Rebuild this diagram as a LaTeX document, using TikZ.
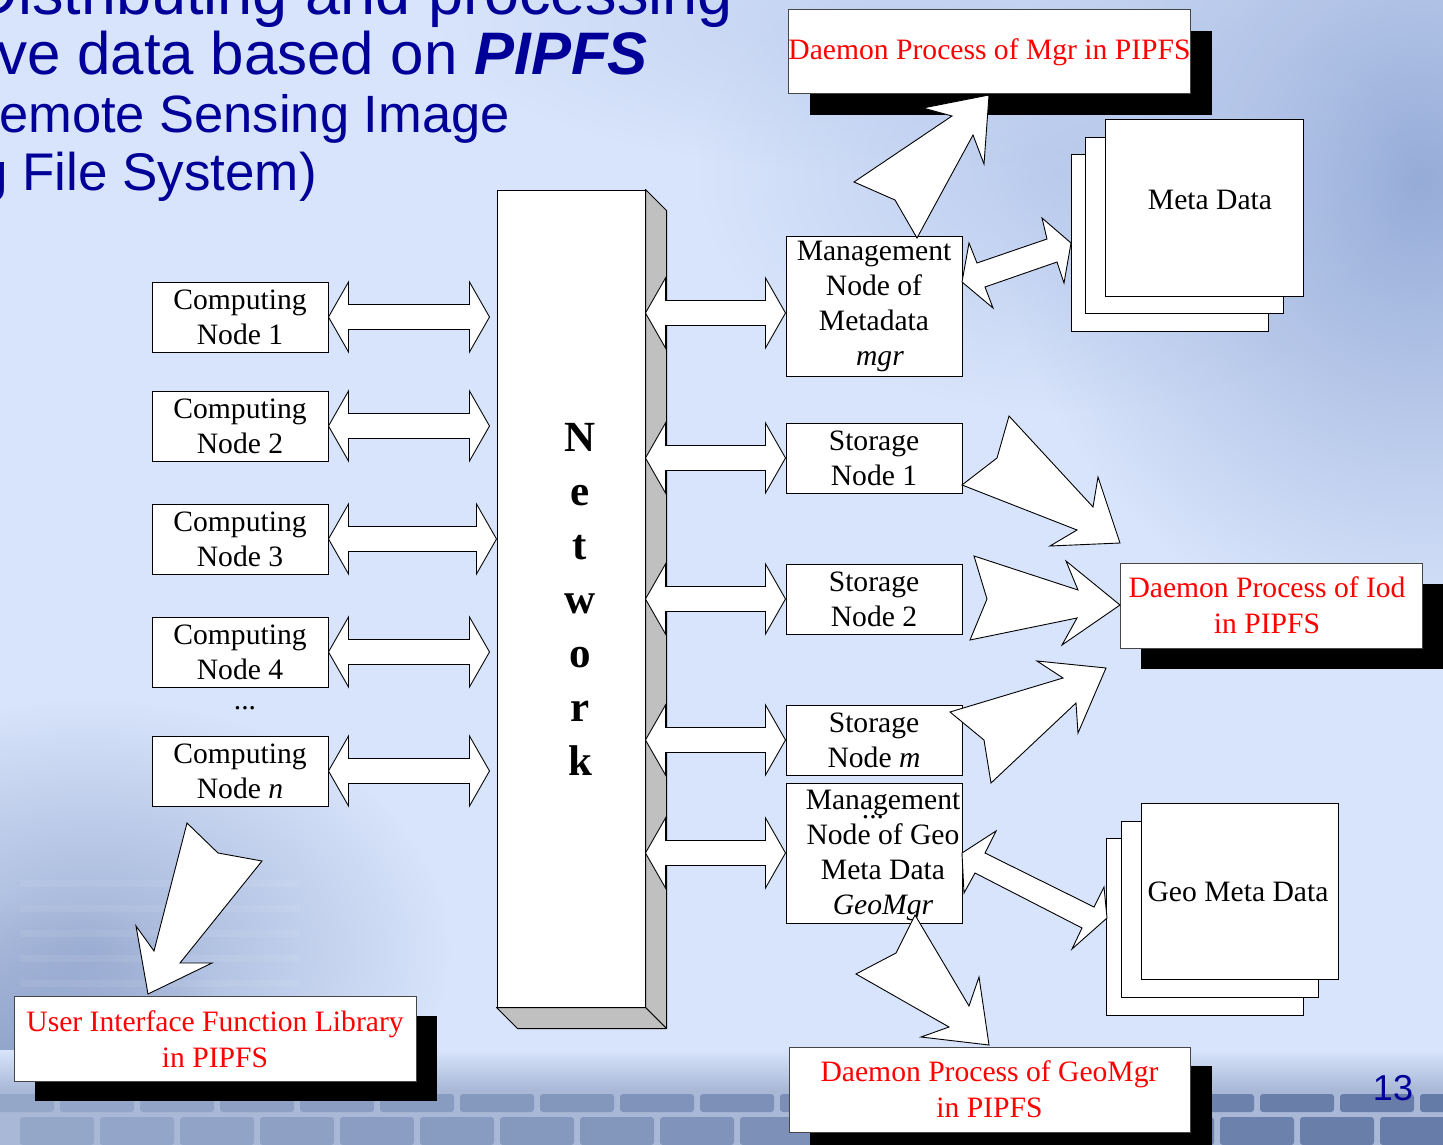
\documentclass[tikz,border=0pt]{standalone}
\usepackage{fontspec}
\setmainfont{Liberation Serif}
\newfontfamily\titlefont{Liberation Sans}
\usetikzlibrary{calc,fadings}

\definecolor{bgcol}{RGB}{216,228,251}
\definecolor{cloud}{RGB}{150,172,216}
\definecolor{cloudlight}{RGB}{180,198,234}
\definecolor{stairshade}{RGB}{160,178,214}
\definecolor{cornershade}{RGB}{140,160,200}
\definecolor{titleblue}{RGB}{0,0,153}
\definecolor{netgray}{RGB}{192,192,192}
\definecolor{bandcol}{RGB}{168,184,214}
\definecolor{brickcol}{RGB}{96,118,164}
\definecolor{redframe}{RGB}{70,70,70}

% soft round spot: opaque centre, transparent rim
\tikzfading[name=softspot, inner color=transparent!0, outer color=transparent!100]

\newcommand\diagfont{\fontsize{29.6}{35}\selectfont}
\newcommand\redfont{\fontsize{29.6}{36}\selectfont}

% horizontal double-headed block arrow between two points on one level
\newcommand\hdouble[2]{%
  \draw[blockarrow] (#1) -- ($(#1)+(20,-35)$) -- ($(#1)+(20,-12.5)$)
    -- ($(#2)+(-20,-12.5)$) -- ($(#2)+(-20,-35)$) -- (#2)
    -- ($(#2)+(-20,35)$) -- ($(#2)+(-20,12.5)$)
    -- ($(#1)+(20,12.5)$) -- ($(#1)+(20,35)$) -- cycle;}

\begin{document}
\begin{tikzpicture}[x=1pt,y=-1pt,
  box/.style={draw=black, line width=1pt, fill=white, inner sep=0pt,
              align=center, font=\diagfont},
  paper/.style={draw=black, line width=1pt, fill=white},
  redbox/.style={draw=redframe, line width=1pt,
                 fill=white, text=red, inner sep=0pt, align=center, font=\redfont},
  shadowbox/.style={fill=black},
  blockarrow/.style={draw=black, line width=0.9pt, fill=white, line join=miter},
  titletext/.style={text=titleblue, inner sep=0pt, anchor=base east},
  plain/.style={inner sep=0pt, align=center, font=\diagfont}]

\useasboundingbox (0,0) rectangle (1443,1145);
\clip (0,0) rectangle (1443,1145);

% ---------- slide background ----------
\fill[bgcol] (0,0) rectangle (1443,1145);
\fill[cloud, path fading=softspot] (1420,180) ellipse (420 and 460);
\fill[cloudlight, path fading=softspot, opacity=0.8] (1060,170) ellipse (360 and 240);
\fill[cloudlight, path fading=softspot, opacity=0.6] (880,20) ellipse (440 and 150);
\fill[stairshade, path fading=softspot] (90,950) ellipse (360 and 250);
\fill[cornershade, path fading=softspot] (20,1070) ellipse (220 and 170);
% faint stair steps at the lower left
\foreach \yy in {880,905,930,955,980}
  \fill[white, opacity=0.07] (20,\yy) rectangle (300,\yy+7);

% brick band along the bottom edge
\shade[top color=bgcol, bottom color=bandcol] (0,1050) rectangle (1443,1090);
\fill[bandcol] (0,1090) rectangle (1443,1145);
\foreach \xx in {-20,60,...,1460} {
  \pgfmathsetmacro\op{0.25+0.7*max(0,\xx)/1443}
  \fill[brickcol, opacity=\op, rounded corners=3pt] (\xx,1094) rectangle (\xx+74,1112);
  \fill[brickcol, opacity=\op, rounded corners=3pt] (\xx+40,1117) rectangle (\xx+114,1145);
}

% ---------- title lines ----------
\node[titletext, font=\titlefont\fontsize{63}{63}\selectfont] (t1) at (733,15) {Distributing and processing};
\node[titletext, font=\titlefont\fontsize{60}{60}\selectfont] (t2) at (648,75) {ve data based on \textbf{\textit{PIPFS}}};
\node[titletext, font=\titlefont\fontsize{52.5}{52.5}\selectfont] (t3) at (510,133) {emote Sensing Image};
\node[titletext, font=\titlefont\fontsize{53}{53}\selectfont] (t4) at (317,190) {g File System)};

% ---------- network column (box with side and bottom faces) ----------
\node[draw=black, line width=1pt, fill=white, minimum width=148pt, minimum height=817pt,
      inner sep=0pt] (net) at (571,598.5) {};
\fill[netgray, draw=black, line width=1pt, line join=round]
  (net.north east) -- ++(21,21) -- ($(net.south east)+(21,21)$) -- (net.south east) -- cycle;
\fill[netgray, draw=black, line width=1pt, line join=round]
  (net.south west) -- (net.south east) -- ++(21,21) -- ($(net.south west)+(21,21)$) -- cycle;
\node[inner sep=0pt, align=center, font=\fontsize{43}{54}\selectfont\bfseries] (netlabel) at (580,599)
  {N\\e\\t\\w\\o\\r\\k};

% ---------- computing nodes ----------
\node[box, minimum width=176pt, minimum height=70pt] (cn1) at (240,317) {Computing\\Node 1};
\node[box, minimum width=176pt, minimum height=70pt] (cn2) at (240,426) {Computing\\Node 2};
\node[box, minimum width=176pt, minimum height=70pt] (cn3) at (240,539) {Computing\\Node 3};
\node[box, minimum width=176pt, minimum height=70pt] (cn4) at (240,652) {Computing\\Node 4};
\node[plain] (cdots) at (245,708) {...};
\node[box, minimum width=176pt, minimum height=70pt] (cnn) at (240,771) {Computing\\Node \textit{n}};

\coordinate (c1) at ($(net.west |- cn1.east)+(-7,0)$);
\coordinate (c2) at ($(net.west |- cn2.east)+(-7,0)$);
\coordinate (c3) at (net.west |- cn3.east);
\coordinate (c4) at ($(net.west |- cn4.east)+(-7,0)$);
\coordinate (cn) at ($(net.west |- cnn.east)+(-7,0)$);
\hdouble{cn1.east}{c1}
\hdouble{cn2.east}{c2}
\hdouble{cn3.east}{c3}
\hdouble{cn4.east}{c4}
\hdouble{cnn.east}{cn}

% ---------- management and storage nodes ----------
\node[box, minimum width=176pt, minimum height=140pt] (mgr) at (874,306)
  {Management\\Node of\\Metadata\\\hspace*{12pt}\textit{mgr}};
\node[box, minimum width=176pt, minimum height=70pt] (sn1) at (874,458) {Storage\\Node 1};
\node[box, minimum width=176pt, minimum height=70pt] (sn2) at (874,599) {Storage\\Node 2};
\node[box, minimum width=176pt, minimum height=70pt] (snm) at (874,740) {Storage\\Node \textit{m}};
\node[box, minimum width=176pt, minimum height=140pt] (geo) at (874,853) {};
\node[plain] (geotext) at (883,855) {Management\\Node of Geo\\Meta Data\\\textit{GeoMgr}};
\node[plain] (sdots) at (873,817) {...};

\coordinate (m0) at ($(net.east |- mgr.west)+(0,7)$);
\coordinate (m1) at ($(mgr.west)+(0,7)$);
\coordinate (s1) at (net.east |- sn1.west);
\coordinate (s2) at (net.east |- sn2.west);
\coordinate (sm) at (net.east |- snm.west);
\coordinate (g0) at (net.east |- geo.west);
\hdouble{m0}{m1}
\hdouble{s1}{sn1.west}
\hdouble{s2}{sn2.west}
\hdouble{sm}{snm.west}
\hdouble{g0}{geo.west}

% ---------- metadata stores ----------
\draw[paper] (1071,155) rectangle (1268,331);
\draw[paper] (1085,138) rectangle (1283,313);
\node[paper, minimum width=198pt, minimum height=176pt, inner sep=0pt] (meta) at (1204,208) {};
\node[plain] (metatext) at (1210,200) {Meta Data};

\draw[paper] (1106,838) rectangle (1303,1015);
\draw[paper] (1121,821) rectangle (1318,997);
\node[paper, minimum width=197pt, minimum height=176pt, inner sep=0pt] (geometa) at (1239.5,891) {};
\node[plain] (geometatext) at (1238,892) {Geo Meta Data};

% ---------- daemon processes and user library (with drop shadows) ----------
\fill[shadowbox] (810,31) rectangle (1212,115);
\node[redbox, minimum width=401pt, minimum height=84pt] (dmgr) at (989.5,52) {Daemon Process of Mgr in PIPFS};

\fill[shadowbox] (1141,584) rectangle (1443,669);
\node[redbox, minimum width=302pt, minimum height=85pt] (diod) at (1271,605.5) {\hspace*{-8pt}Daemon Process of Iod\\\hspace*{-8pt}in PIPFS};

\fill[shadowbox] (810,1066) rectangle (1212,1151);
\node[redbox, minimum width=401pt, minimum height=85pt] (dgeo) at (989.5,1089.5) {Daemon Process of GeoMgr\\in PIPFS};

\fill[shadowbox] (35,1016) rectangle (437,1101);
\node[redbox, minimum width=402pt, minimum height=85pt] (ui) at (215,1039) {User Interface Function Library\\in PIPFS};

% ---------- bent block arrows ----------
% mgr -> daemon of mgr
\draw[blockarrow] (917,238) -- (895,200) -- (854,182) -- (952,116) -- (923,108)
  -- (989,95) -- (984,164) -- (973,135) -- cycle;
% mgr <-> meta data
\draw[blockarrow] (962,282) -- (969,243) -- (977,263) -- (1047,239) -- (1042,218)
  -- (1071,243) -- (1064,283) -- (1057,262) -- (985,287) -- (993,308) -- cycle;
% storage nodes -> daemon of iod
\draw[blockarrow] (962,485) -- (997,458) -- (1009,416) -- (1093,507) -- (1098,477)
  -- (1120,543) -- (1050,546) -- (1077,530) -- cycle;
\draw[blockarrow] (974,556) -- (1078,590) -- (1066,561) -- (1120,605) -- (1062,645)
  -- (1077,618) -- (970,640) -- (987,599) -- cycle;
\draw[blockarrow] (950,712) -- (1063,678) -- (1037,661) -- (1106,668) -- (1078,733)
  -- (1076,703) -- (991,783) -- (984,740) -- cycle;
% geo mgr <-> geo meta data
\draw[blockarrow] (962,853) -- (996,831) -- (985,853) -- (1094,907) -- (1104,887)
  -- (1107,918) -- (1072,949) -- (1082,928) -- (975,873) -- (964,893) -- cycle;
% geo mgr -> daemon of geomgr
\draw[blockarrow] (915,915) -- (896,953) -- (856,974) -- (949,1027) -- (921,1037)
  -- (989,1045) -- (979,977) -- (969,1006) -- cycle;
% computing node n -> user interface library
\draw[blockarrow] (187,823) -- (218,853) -- (262,861) -- (180,963) -- (212,963)
  -- (148,994) -- (136,926) -- (154,951) -- cycle;

% page number
\node[inner sep=0pt, text=titleblue, font=\titlefont\fontsize{36}{36}\selectfont] (pnum) at (1393,1088) {13};
\end{tikzpicture}
\end{document}
